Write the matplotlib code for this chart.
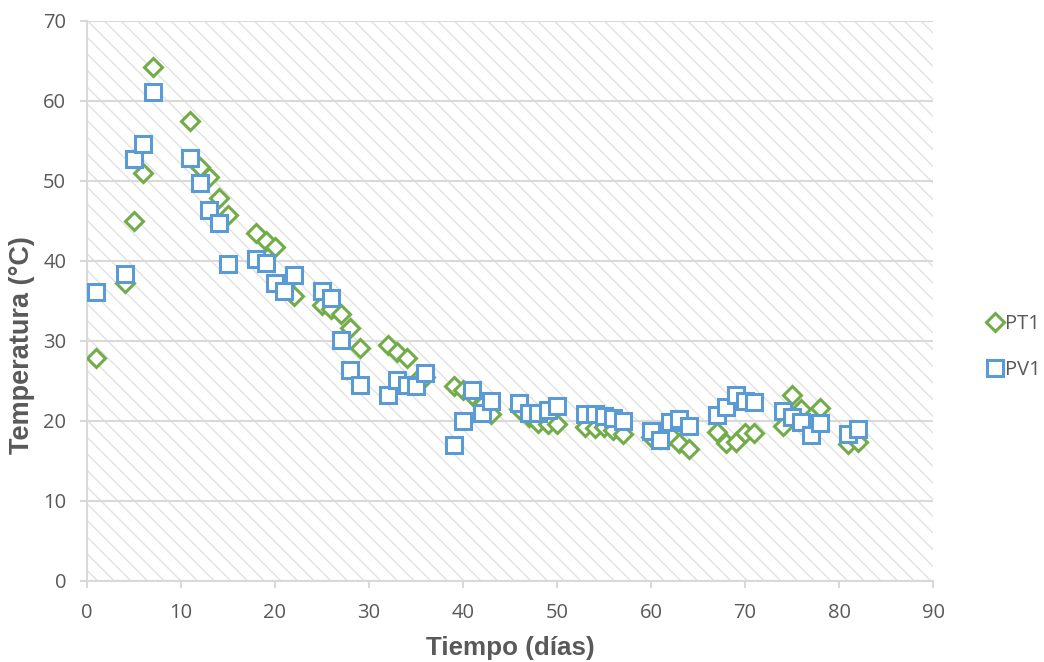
import matplotlib.pyplot as plt
from matplotlib.patches import Rectangle

dias = [1, 4, 5, 6, 7, 11, 12, 13, 14, 15, 18, 19, 20, 21, 22, 25, 26, 27, 28, 29,
        32, 33, 34, 35, 36, 39, 40, 41, 42, 43, 46, 47, 48, 49, 50, 53, 54, 55, 56, 57,
        60, 61, 62, 63, 64, 67, 68, 69, 70, 71, 74, 75, 76, 77, 78, 81, 82]

pt1 = [27.9, 37.2, 45.0, 51.0, 64.2, 57.5, 51.8, 50.5, 47.9, 45.7, 43.5, 42.5, 41.8, 37.0, 35.6,
       34.5, 34.0, 33.4, 31.6, 29.1, 29.5, 28.6, 27.9, 25.0, 25.5, 24.4, 23.9, 23.3, 22.0, 20.9,
       21.5, 20.5, 19.8, 19.6, 19.6, 19.2, 19.1, 19.3, 18.9, 18.4, 18.0, 17.8, 18.2, 17.2, 16.5,
       18.6, 17.3, 17.4, 18.5, 18.5, 19.4, 23.3, 21.5, 19.5, 21.6, 17.1, 17.4]

pv1 = [36.1, 38.4, 52.8, 54.6, 61.1, 52.9, 49.8, 46.4, 44.7, 39.6, 40.2, 39.8, 37.2, 36.2, 38.2,
       36.3, 35.4, 30.1, 26.4, 24.5, 23.2, 25.1, 24.5, 24.4, 26.0, 17.0, 20.0, 23.9, 21.0, 22.5,
       22.2, 21.0, 21.0, 21.4, 21.9, 20.9, 20.9, 20.6, 20.4, 20.0, 18.7, 17.6, 19.9, 20.3, 19.4,
       20.8, 21.8, 23.2, 22.5, 22.4, 21.3, 20.5, 19.9, 18.2, 19.7, 18.4, 19.0]

gris = "#595959"
verde = "#70AD47"
azul = "#5B9BD5"

plt.rcParams['hatch.linewidth'] = 1.0

fig = plt.figure(figsize=(10.44, 6.62), dpi=100)
ax = fig.add_axes([0.0833, 0.1224, 0.8104, 0.8459])

# fondo rayado
fondo = Rectangle((0, 0), 1, 1, transform=ax.transAxes, facecolor="white",
                  edgecolor="#e2e2e2", hatch="\\\\", linewidth=0, zorder=0)
ax.add_patch(fondo)

ax.set_xlim(0, 90)
ax.set_ylim(0, 70)
ax.set_xticks(range(0, 91, 10))
ax.set_yticks(range(0, 71, 10))
ax.yaxis.grid(True, color="#d9d9d9", linewidth=1.5, zorder=1)
ax.set_axisbelow(True)

for s in ["top", "right"]:
    ax.spines[s].set_visible(False)
for s in ["left", "bottom"]:
    ax.spines[s].set_color("#d9d9d9")
    ax.spines[s].set_linewidth(1.5)

ax.tick_params(axis="both", colors="#d9d9d9", width=1.5, length=5, labelcolor=gris,
               labelsize=14.5)
ax.tick_params(axis="x", pad=11)
ax.tick_params(axis="y", pad=10)
for lab in ax.get_xticklabels() + ax.get_yticklabels():
    lab.set_family("Open Sans")

ax.plot(dias, pt1, linestyle="none", marker="D", markersize=9, markerfacecolor="white",
        markeredgecolor=verde, markeredgewidth=2.2, label="PT1", zorder=3)
ax.plot(dias, pv1, linestyle="none", marker="s", markersize=12, markerfacecolor="white",
        markeredgecolor=azul, markeredgewidth=2.2, label="PV1", zorder=4)

ax.set_xlabel("Tiempo (días)", fontsize=18.7, fontweight="bold", color=gris,
              family="Liberation Sans")
ax.set_ylabel("Temperatura (°C)", fontsize=19.5, fontweight="bold", color=gris,
              family="Liberation Sans")
ax.xaxis.set_label_coords(0.5, -0.099)
ax.yaxis.set_label_coords(-0.062, 0.421)

leg = fig.legend(loc="center left", bbox_to_anchor=(0.943, 0.476), frameon=False,
                 prop={"family": "Open Sans", "size": 14.5}, handletextpad=0.0,
                 labelspacing=1.3, handlelength=1.0, borderaxespad=0, borderpad=0)
for t in leg.get_texts():
    t.set_color(gris)

plt.savefig("out.png", dpi=100)
